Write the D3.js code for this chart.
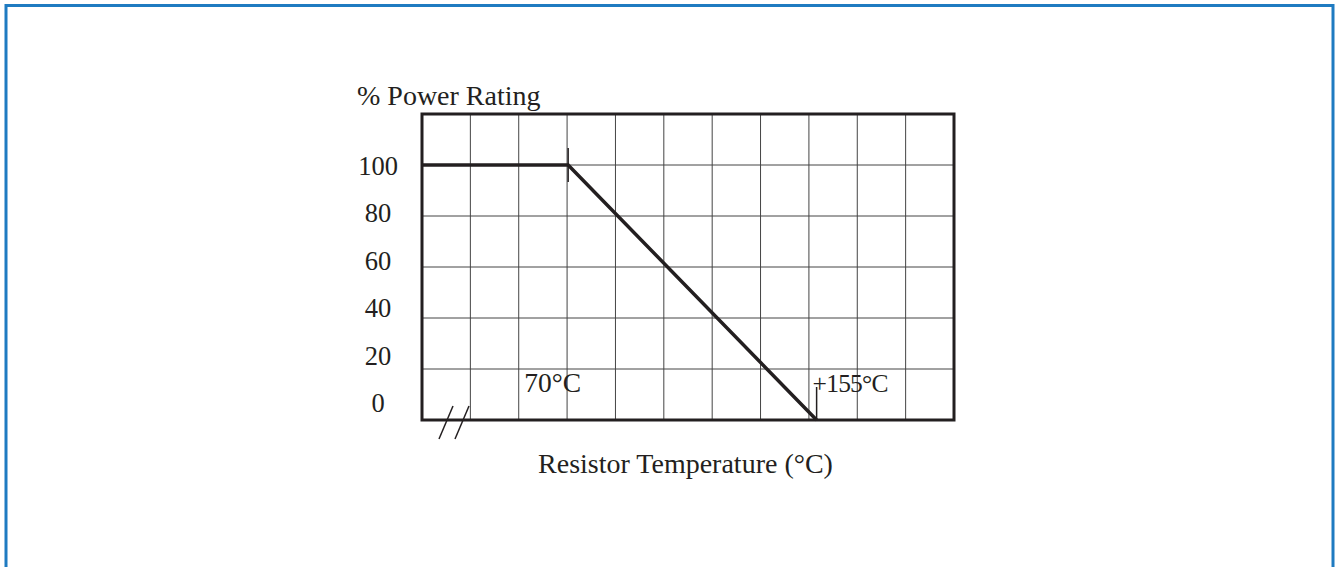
<!DOCTYPE html>
<html>
<head>
<meta charset="utf-8">
<script src="https://cdn.jsdelivr.net/npm/d3@7"></script>
<style>
  body { margin: 0; background: #fff; }
  text { font-family: 'Liberation Serif', 'Times New Roman', serif; fill: #231f20; }
</style>
</head>
<body>
<div id="chart"></div>
<script>
// derating curve: temperature (°C) vs % power rating
const temps = [20, 70, 155]
const power = [100, 100, 0]
const yTicks = [0, 20, 40, 60, 80, 100]
const kneeLabels = ['70°C', '+155°C']

let margin = { top: 114, left: 422, right: 381, bottom: 147 }
let width = 1335 - margin.left - margin.right
let height = 567 - margin.top - margin.bottom

const root = d3
  .select('#chart')
  .append('svg')
  .attr('width', 1335)
  .attr('height', 567)

// blue frame round the figure
root
  .append('rect')
  .attr('x', 6)
  .attr('y', 5.5)
  .attr('width', 1327)
  .attr('height', 640)
  .attr('fill', 'none')
  .attr('stroke', '#1f7bc1')
  .attr('stroke-width', 3)

const svg = root
  .append('g')
  .attr('transform', 'translate(' + margin.left + ',' + margin.top + ')')

// 11 columns, 6 rows of grid
var colScale = d3.scaleLinear().domain([0, 11]).range([0, width])
var xScale = d3.scaleLinear().domain([20, 202]).range([0, width])
var yScale = d3.scaleLinear().domain([0, 120]).range([height, 0])
// tick labels sit a little tighter than the grid
var labelScale = d3.scaleLinear().domain([0, 100]).range([height - 17, yScale(100) + 0.5])

svg
  .selectAll('.vgrid')
  .data(d3.range(1, 11))
  .enter()
  .append('line')
  .attr('class', 'vgrid')
  .attr('x1', d => colScale(d))
  .attr('x2', d => colScale(d))
  .attr('y1', 0)
  .attr('y2', height)
  .attr('stroke', '#444')
  .attr('stroke-width', 1)

svg
  .selectAll('.hgrid')
  .data([20, 40, 60, 80, 100])
  .enter()
  .append('line')
  .attr('class', 'hgrid')
  .attr('x1', 0)
  .attr('x2', width)
  .attr('y1', d => yScale(d))
  .attr('y2', d => yScale(d))
  .attr('stroke', '#444')
  .attr('stroke-width', 1)

svg
  .append('rect')
  .attr('width', width)
  .attr('height', height)
  .attr('fill', 'none')
  .attr('stroke', '#231f20')
  .attr('stroke-width', 3)

// y labels
svg
  .selectAll('.ylabel')
  .data(yTicks)
  .enter()
  .append('text')
  .attr('class', 'ylabel')
  .attr('x', -44)
  .attr('y', d => labelScale(d))
  .attr('dy', '0.35em')
  .attr('text-anchor', 'middle')
  .attr('font-size', 26.5)
  .text(d => d)

svg
  .append('text')
  .attr('x', -65)
  .attr('y', -9)
  .attr('font-size', 28)
  .text('% Power Rating')

svg
  .append('text')
  .attr('x', width / 2 - 2.5)
  .attr('y', height + 53)
  .attr('text-anchor', 'middle')
  .attr('font-size', 28)
  .text('Resistor Temperature (°C)')

// the curve
var line = d3
  .line()
  .x((d, i) => xScale(temps[i]))
  .y(d => yScale(d))

svg
  .append('path')
  .datum(power)
  .attr('d', line)
  .attr('fill', 'none')
  .attr('stroke', '#231f20')
  .attr('stroke-width', 3.5)

// little marker ticks at the knee and the end
svg
  .append('line')
  .attr('x1', xScale(70))
  .attr('x2', xScale(70))
  .attr('y1', yScale(100) - 17)
  .attr('y2', yScale(100) + 17)
  .attr('stroke', '#231f20')
  .attr('stroke-width', 1.5)

svg
  .append('line')
  .attr('x1', xScale(155))
  .attr('x2', xScale(155))
  .attr('y1', height - 33)
  .attr('y2', height)
  .attr('stroke', '#231f20')
  .attr('stroke-width', 1.5)

svg
  .append('text')
  .attr('x', xScale(70) - 44)
  .attr('y', height - 28)
  .attr('font-size', 27.5)
  .text(kneeLabels[0])

svg
  .append('text')
  .attr('x', xScale(155) - 4)
  .attr('y', height - 28)
  .attr('font-size', 25.5)
  .attr('letter-spacing', -0.8)
  .text(kneeLabels[1])

// axis break marks
svg
  .selectAll('.break')
  .data([0, 16])
  .enter()
  .append('line')
  .attr('class', 'break')
  .attr('x1', d => 17 + d)
  .attr('y1', height + 19)
  .attr('x2', d => 31 + d)
  .attr('y2', height - 14)
  .attr('stroke', '#231f20')
  .attr('stroke-width', 1.5)
</script>
</body>
</html>
